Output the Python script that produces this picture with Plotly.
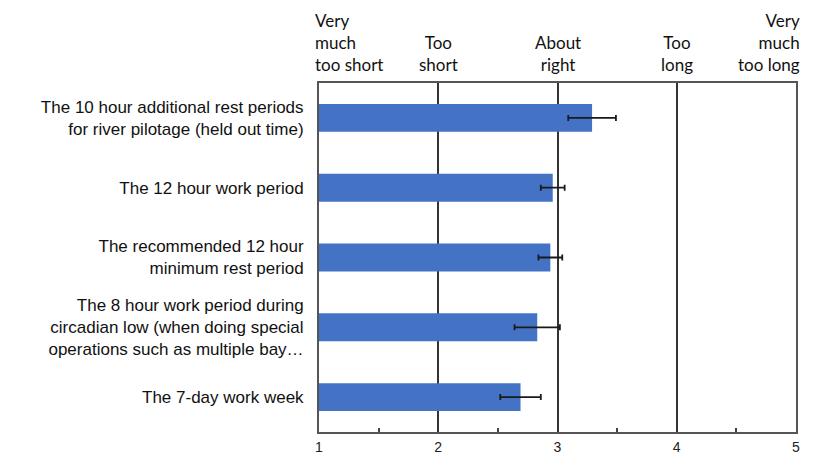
import plotly.graph_objects as go

# Survey items (top to bottom) and mean ratings on a 1-5 scale
items = [
    "The 10 hour additional rest periods<br>for river pilotage (held out time)",
    "The 12 hour work period",
    "The recommended 12 hour<br>minimum rest period",
    "The 8 hour work period during<br>circadian low (when doing special<br>operations such as multiple bay…",
    "The 7-day work week",
]
mean_rating = [3.29, 2.96, 2.94, 2.83, 2.69]
error_half = [0.20, 0.10, 0.10, 0.19, 0.17]

scale_values = [1, 2, 3, 4, 5]
scale_labels = [
    "Very<br>much<br>too short",
    "Too<br>short",
    "About<br>right",
    "Too<br>long",
    "Very<br>much<br>too long",
]
tick_labels = ["1", "2", "3", "4", "5"]

fig = go.Figure()
fig.add_trace(go.Bar(
    y=items,
    x=mean_rating,
    orientation="h",
    width=0.4,
    marker=dict(color="#4472C4", line=dict(width=0)),
    error_x=dict(type="data", array=error_half, visible=True,
                 color="#1a1a1a", thickness=1.8, width=3),
))

# Scale anchor labels above the plot area
for v, lab in zip(scale_values, scale_labels):
    if v == 1:
        xanchor, align, xshift = "left", "left", -6
    elif v == 5:
        xanchor, align, xshift = "right", "right", 6
    else:
        xanchor, align, xshift = "center", "center", 0
    fig.add_annotation(
        x=v, xref="x", y=1.0, yref="paper", yshift=6,
        text=lab, showarrow=False, xanchor=xanchor, yanchor="bottom",
        align=align, xshift=xshift,
        font=dict(family="Lato, Open Sans, sans-serif", size=17, color="#111"),
    )

fig.update_layout(
    width=820, height=457,
    margin=dict(l=319, r=24, t=83, b=25),
    paper_bgcolor="white", plot_bgcolor="white",
    showlegend=False,
    bargap=0.6,
    font=dict(family="Liberation Sans, Arial, sans-serif", size=17, color="#111"),
)
fig.update_xaxes(
    range=[1, 5], automargin=False,
    tickvals=scale_values, ticktext=tick_labels,
    tickfont=dict(family="Liberation Sans, Arial, sans-serif", size=14, color="#222"),
    showgrid=True, gridcolor="#333", gridwidth=1.5,
    showline=True, linecolor="#555", linewidth=2, mirror=True,
    ticks="", zeroline=False, ticklabelstandoff=1,
    minor=dict(tickvals=[1.5, 2.5, 3.5, 4.5], ticks="inside", ticklen=4,
               tickcolor="#444", tickwidth=1.5, showgrid=False),
)
fig.update_yaxes(
    autorange="reversed", automargin=False,
    showline=True, linecolor="#555", linewidth=2, mirror=True,
    showgrid=False, ticks="", ticklabelstandoff=10,
)

fig.write_html("out.html")
